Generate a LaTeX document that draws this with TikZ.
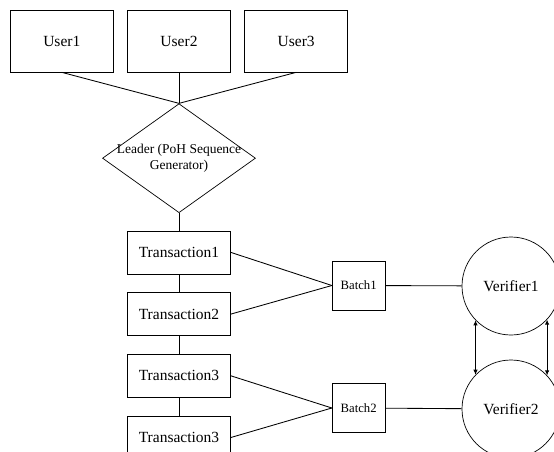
\documentclass[tikz,border=0pt]{standalone}
\usepackage{fontspec}
\setmainfont{Liberation Serif}
\usetikzlibrary{positioning,shapes.geometric,arrows.meta}

\tikzset{
  box/.style={draw, rectangle, line width=0.7pt, font=\fontsize{15.5}{18}\selectfont},
  userbox/.style={box, minimum width=103pt, minimum height=62pt},
  txbox/.style={box, minimum width=103pt, minimum height=43pt},
  batchbox/.style={box, minimum width=53pt, minimum height=49pt, font=\fontsize{12.7}{15}\selectfont},
  leaderbox/.style={draw, diamond, line width=0.7pt, minimum width=153pt, minimum height=109pt, inner sep=0pt},
  verifier/.style={draw, circle, line width=0.7pt, minimum size=98pt, inner sep=0pt, font=\fontsize{15.5}{18}\selectfont},
  link/.style={line width=0.85pt},
  sync/.style={line width=0.85pt, {Latex[length=5pt,width=4.5pt]}-{Latex[length=5pt,width=4.5pt]}}
}

\begin{document}
\begin{tikzpicture}[x=1pt, y=-1pt]
    \clip (0,0) rectangle (554,452);
    % users
    \node[userbox] (user2) at (179,41) {User2};
    \node[userbox, left=13.5pt of user2] (user1) {User1};
    \node[userbox, right=13.5pt of user2] (user3) {User3};
    % leader
    \node[leaderbox, below=31pt of user2,
          label={[align=center, font=\fontsize{13.5}{15.5}\selectfont]center:Leader (PoH Sequence\\Generator)}] (leader) {};
    % transactions
    \node[txbox, below=17.5pt of leader] (tx1) {Transaction1};
    \node[txbox, below=18pt of tx1] (tx2) {Transaction2};
    \node[txbox, below=18pt of tx2] (tx3) {Transaction3};
    \node[txbox, below=18pt of tx3] (tx4) {Transaction3};
    % batches and verifiers
    \node[batchbox] (batch1) at (358.7,285.5) {Batch1};
    \node[batchbox] (batch2) at (358.7,408) {Batch2};
    \node[verifier] (ver1) at (511,286) {Verifier1};
    \node[verifier] (ver2) at (511,409) {Verifier2};

    \draw[link] (user1.south) -- (leader.north);
    \draw[link] (user2.south) -- (leader.north);
    \draw[link] (user3.south) -- (leader.north);
    \draw[link] (leader.south) -- (tx1.north);
    \draw[link] (tx1) -- (tx2);
    \draw[link] (tx2) -- (tx3);
    \draw[link] (tx3) -- (tx4);
    \draw[link] (tx1.east) -- (batch1.west);
    \draw[link] (tx2.east) -- (batch1.west);
    \draw[link] (tx3.east) -- (batch2.west);
    \draw[link] (tx4.east) -- (batch2.west);
    \draw[link] (batch1) -- (ver1);
    \draw[link] (batch2) -- (ver2);
    \draw[sync] (ver1.-136.4) -- (ver2.136.4);
    \draw[sync] (ver1.-43.6) -- (ver2.43.6);
\end{tikzpicture}
\end{document}
